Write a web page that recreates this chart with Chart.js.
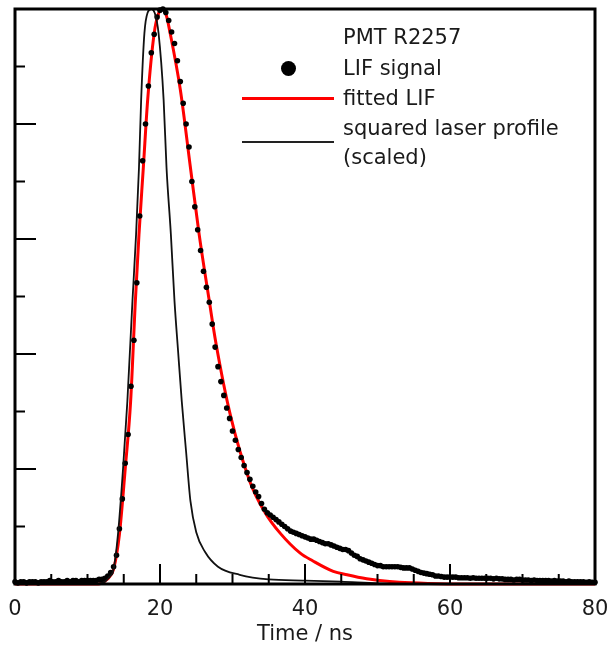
<!DOCTYPE html>
<html>
<head>
<meta charset="utf-8">
<script src="https://cdn.jsdelivr.net/npm/chart.js@4.4.1/dist/chart.umd.min.js"></script>
<style>
  html, body { margin: 0; padding: 0; background: #fff; }
  #wrap { position: relative; width: 609px; height: 655px; font-family: "DejaVu Sans", Verdana, sans-serif; color: #1a1a1a; }
  .lg { position: absolute; left: 343px; font-size: 21px; line-height: 30px; white-space: nowrap; }
  .mk { position: absolute; }
</style>
</head>
<body>
<div id="wrap">
  <canvas id="myChart" width="609" height="655"></canvas>
  <div class="lg" style="top:22px">PMT R2257</div>
  <div class="mk" style="left:281px;top:61px;width:15px;height:15px;border-radius:50%;background:#000"></div>
  <div class="lg" style="top:53px">LIF signal</div>
  <div class="mk" style="left:242px;top:97px;width:92px;height:3px;background:#ff0000"></div>
  <div class="lg" style="top:83px">fitted LIF</div>
  <div class="mk" style="left:242px;top:141px;width:92px;height:2px;background:#222"></div>
  <div class="lg" style="top:113px">squared laser profile</div>
  <div class="lg" style="top:142px">(scaled)</div>
</div>
<script>
// LIF signal, sampled every 0.4 ns from 0 to 80 ns
const lifStep = 0.4
const lifSignal = [
  0.02,0.01,0.02,0.02,0.01,0.02,0.02,0.02,0.01,0.02,
  0.02,0.02,0.03,0.02,0.02,0.03,0.02,0.02,0.03,0.02,
  0.03,0.03,0.02,0.03,0.03,0.03,0.03,0.03,0.03,0.04,
  0.04,0.05,0.07,0.10,0.15,0.25,0.48,0.74,1.05,1.30,
  1.72,2.12,2.62,3.20,3.68,4.00,4.33,4.62,4.78,4.93,
  4.99,5.00,4.97,4.90,4.80,4.70,4.55,4.37,4.18,4.00,
  3.80,3.50,3.28,3.08,2.90,2.72,2.58,2.45,2.26,2.06,
  1.89,1.76,1.64,1.53,1.44,1.33,1.25,1.17,1.10,1.03,
  0.97,0.91,0.85,0.80,0.76,0.70,0.65,0.62,0.60,0.58,
  0.56,0.54,0.52,0.50,0.48,0.46,0.45,0.44,0.43,0.42,
  0.41,0.40,0.39,0.39,0.38,0.37,0.36,0.35,0.35,0.34,
  0.33,0.32,0.31,0.30,0.30,0.29,0.27,0.25,0.24,0.22,
  0.21,0.20,0.19,0.18,0.17,0.16,0.16,0.15,0.15,0.15,
  0.15,0.15,0.15,0.145,0.14,0.14,0.14,0.13,0.12,0.11,
  0.10,0.095,0.09,0.085,0.08,0.07,0.07,0.065,0.06,0.06,
  0.06,0.06,0.06,0.055,0.055,0.055,0.055,0.05,0.055,0.05,
  0.05,0.05,0.05,0.05,0.05,0.045,0.05,0.045,0.045,0.04,
  0.04,0.04,0.035,0.04,0.04,0.035,0.035,0.035,0.03,0.035,
  0.03,0.03,0.03,0.03,0.03,0.025,0.03,0.025,0.025,0.025,
  0.02,0.025,0.02,0.02,0.02,0.02,0.02,0.015,0.02,0.015,
  0.015
]

// fitted LIF curve
const fitTime  = [0,11.5,12,12.5,13,13.6,14.4,15.2,15.95,16.6,17.1,17.7,18.3,19.2,19.8,20.3,20.8,21.4,22.8,24.2,25.4,26.8,27.7,29.7,32.4,34.5,36.6,39.3,41.1,43.9,45.8,48.5,50.3,53,57,62,80]
const fitValue = [0,0,0.01,0.03,0.06,0.13,0.43,1.0,1.59,2.46,3.04,3.62,4.21,4.79,4.96,5.0,4.96,4.79,4.3,3.62,3.04,2.46,2.1,1.47,0.89,0.62,0.44,0.27,0.2,0.11,0.08,0.045,0.03,0.015,0.005,0,0]

// squared laser profile (scaled)
const laserTime  = [0,11,12,12.4,13,13.6,14.2,14.9,15.5,16.2,16.7,17.1,17.4,17.85,18.3,18.8,19.3,19.8,20.5,20.9,21.5,22.0,22.5,23.0,23.6,24.2,25.0,26.2,28,31,35,40,45,50,55,80]
const laserValue = [0,0,0.01,0.02,0.06,0.13,0.43,1.0,1.59,2.46,3.04,3.62,4.21,4.79,4.97,5.0,4.96,4.79,4.21,3.62,3.04,2.46,2.02,1.59,1.15,0.72,0.45,0.28,0.15,0.08,0.04,0.03,0.02,0.005,0,0]

const xMajor = [0,20,40,60,80]

const toPoints = (xs, ys) => xs.map((t, i) => ({x: t, y: ys[i]}))

// box round the plot with ticks pointing inward
const frame = {
  id: 'frame',
  afterDatasetsDraw(chart) {
    const {ctx, chartArea: a, scales: {x, y}} = chart
    ctx.save()
    ctx.strokeStyle = '#000'
    ctx.lineWidth = 2
    ctx.beginPath()
    x.ticks.forEach((t) => {
      const px = x.getPixelForValue(t.value)
      const len = xMajor.includes(t.value) ? 20 : 10
      ctx.moveTo(px, a.bottom)
      ctx.lineTo(px, a.bottom - len)
    })
    y.ticks.forEach((t) => {
      const py = y.getPixelForValue(t.value)
      const len = Number.isInteger(t.value) ? 21 : 10
      ctx.moveTo(a.left, py)
      ctx.lineTo(a.left + len, py)
    })
    ctx.stroke()
    ctx.lineWidth = 3
    ctx.strokeRect(a.left, a.top, a.right - a.left, a.bottom - a.top)
    ctx.restore()
  }
}

const myChart = new Chart('myChart', {
  type: 'line',
  data: {
    datasets: [{
      label: 'squared laser profile (scaled)',
      data: toPoints(laserTime, laserValue),
      borderColor: '#111',
      borderWidth: 1.8,
      pointRadius: 0,
      cubicInterpolationMode: 'monotone',
      order: 0
    }, {
      label: 'LIF signal',
      data: lifSignal.map((v, i) => ({x: i * lifStep, y: v})),
      showLine: false,
      pointRadius: 2.8,
      pointBorderWidth: 0,
      pointBackgroundColor: '#000',
      clip: false,
      order: 1
    }, {
      label: 'fitted LIF',
      data: toPoints(fitTime, fitValue),
      borderColor: '#ff0000',
      borderWidth: 3,
      pointRadius: 0,
      cubicInterpolationMode: 'monotone',
      clip: false,
      order: 2
    }]
  },
  options: {
    responsive: false,
    animation: false,
    layout: {padding: {left: 15, right: 14, top: 9, bottom: 8}},
    plugins: {legend: {display: false}, tooltip: {enabled: false}},
    scales: {
      x: {
        type: 'linear',
        min: 0,
        max: 80,
        grid: {display: false, drawTicks: false},
        border: {display: false},
        ticks: {
          stepSize: 5,
          autoSkip: false,
          maxRotation: 0,
          padding: 13,
          color: '#1a1a1a',
          font: {family: 'DejaVu Sans', size: 21},
          callback: (v) => xMajor.includes(v) ? String(v) : ''
        },
        title: {
          display: true,
          text: 'Time / ns',
          color: '#1a1a1a',
          font: {family: 'DejaVu Sans', size: 21},
          padding: {top: 2, bottom: 0}
        },
        afterFit: (scale) => {
          scale.paddingLeft = 0
          scale.paddingRight = 0
          scale.height = 63
        }
      },
      y: {
        min: 0,
        max: 5,
        grid: {display: false, drawTicks: false},
        border: {display: false},
        ticks: {display: false, stepSize: 0.5},
        afterFit: (scale) => {
          scale.width = 0
          scale.paddingTop = 0
          scale.paddingBottom = 0
        }
      }
    }
  },
  plugins: [frame]
})
</script>
</body>
</html>
